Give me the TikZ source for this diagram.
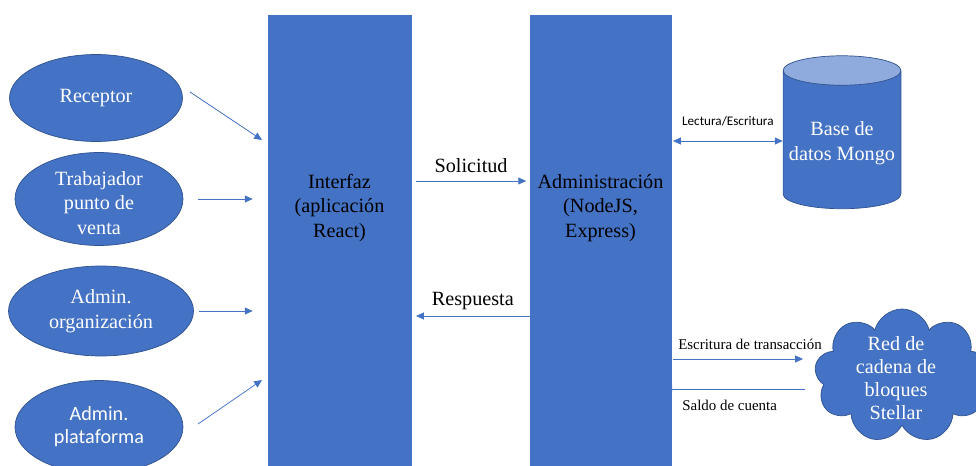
\documentclass[tikz,border=0pt]{standalone}
\usepackage{fontspec}
\setmainfont{Liberation Serif}
\newfontfamily\tnrfont{Liberation Serif}
\newfontfamily\calfont{Carlito}
\usetikzlibrary{shapes.geometric, shapes.symbols, arrows.meta, positioning}
\definecolor{ofblue}{HTML}{4472C4}
\definecolor{ofline}{HTML}{2F528F}
\definecolor{oflight}{HTML}{8FAADC}
\tikzstyle{actor} = [ellipse, draw=ofline, fill=ofblue, text=white, align=center, inner sep=0pt, font=\tnrfont\fontsize{11.5}{14}\selectfont]
\tikzstyle{layer} = [rectangle, draw=ofblue, fill=ofblue, minimum height=9.1cm]
\tikzstyle{layertext} = [align=center, font=\tnrfont\fontsize{11.5}{14}\selectfont]
\tikzstyle{arrow} = [-{Triangle[length=4.5pt,width=4pt]}, draw=ofblue, fill=ofblue, line width=0.4pt]
\tikzstyle{lbl} = [font=\tnrfont\fontsize{11.5}{14}\selectfont]
\tikzstyle{smalllbl} = [font=\tnrfont\fontsize{8.5}{10}\selectfont]

\begin{document}
\begin{tikzpicture}[x=0.02cm, y=-0.02cm]

    \useasboundingbox (0,0) rectangle (976,466);

    % actors
    \node (rec) [actor, minimum width=3.46cm, minimum height=1.74cm] at (96,98) {Receptor};
    \node (trab) [actor, minimum width=3.36cm, minimum height=1.86cm] at (99,199) {};
    \node (trabtxt) [align=center, text=white, font=\tnrfont\fontsize{11.5}{14}\selectfont] at (99,203) {Trabajador\\punto de\\venta};
    \node (org) [actor, minimum width=3.7cm, minimum height=1.8cm] at (101,311) {Admin.\\organización};
    \node (plat) [actor, minimum width=3.36cm, minimum height=1.86cm, font=\calfont\fontsize{11.5}{13}\selectfont] at (99,427) {Admin.\\plataforma};

    % layers
    \node (iface) [layer, minimum width=2.86cm] at (339.5,242.5) {};
    \node (admin) [layer, minimum width=2.82cm] at (600.5,242.5) {};
    \node (ifacetxt) [layertext] at (iface |- 0,208) {Interfaz\\(aplicación\\React)};
    \node (admintxt) [layertext] at (admin |- 0,208) {Administración\\(NodeJS,\\Express)};

    % storage and network
    \node (db) [cylinder, shape border rotate=90, aspect=0.25, draw=ofline, cylinder uses custom fill, cylinder body fill=ofblue, cylinder end fill=oflight, minimum width=2.24cm, minimum height=3.06cm, text=white, align=center, font=\tnrfont\fontsize{11.5}{14}\selectfont] at (842,143) {Base de\\datos Mongo};
    \node (net) [cloud, cloud puffs=9, cloud ignores aspect, draw=ofline, fill=ofblue, minimum width=3.5cm, minimum height=2.68cm, inner sep=0pt] at (902,376) {};
    \node (nettxt) [text=white, align=center, font=\tnrfont\fontsize{11.5}{13.2}\selectfont] at (896,378) {Red de\\cadena de\\bloques\\Stellar};

    % arrow ends
    \coordinate (recA) at (190,92);
    \coordinate (recB) at (262,140);
    \coordinate (platA) at (198,424);
    \coordinate (platB) at (262,380);
    \coordinate (solA) at (416,181);
    \coordinate (resA) at (416,316);
    \coordinate (rwA) at (673,141);
    \coordinate (txA) at (673,359);
    \coordinate (txB) at (803,359);
    \coordinate (balA) at (805,389);

    \draw [arrow] (recA) -- (recB);
    \draw [arrow] ([xshift=0.3cm]trab.east) -- ([xshift=-0.3cm]iface.west |- trab.east);
    \draw [arrow] ([xshift=0.1cm]org.east) -- ([xshift=-0.3cm]iface.west |- org.east);
    \draw [arrow] (platA) -- (platB);

    \draw [arrow] (solA) -- node[lbl, above=1pt] {Solicitud} ([xshift=-2pt]admin.west |- solA);
    \draw [arrow] (admin.west |- resA) -- node[lbl, above=0pt] {Respuesta} (resA);

    \draw [arrow, {Triangle[length=4.5pt,width=4pt]}-{Triangle[length=4.5pt,width=4pt]}] (rwA) -- node[above=5pt, font=\calfont\fontsize{7.5}{9}\selectfont] {Lectura/Escritura} (db.west |- rwA);
    \draw [arrow] (txA) -- node[smalllbl, above=2pt, xshift=0.24cm] {Escritura de transacción} (txB);
    \draw [arrow] (balA) -- node[smalllbl, below=3pt, xshift=-0.1cm] {Saldo de cuenta} ([xshift=-4pt]admin.east |- balA);

\end{tikzpicture}
\end{document}
